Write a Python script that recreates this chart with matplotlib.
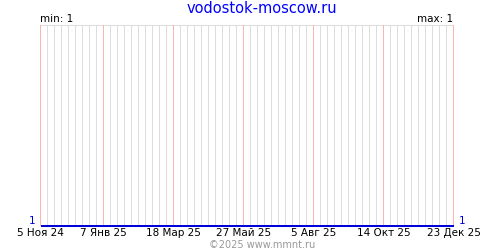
import numpy as np
import matplotlib
matplotlib.use('Agg')
import matplotlib.pyplot as plt
from datetime import datetime, timedelta

# data
dates = ['2024-11-05', '2025-12-23']
values = [1, 1]
tick_dates = ['2024-11-05', '2025-01-07', '2025-03-18', '2025-05-27',
              '2025-08-05', '2025-10-14', '2025-12-23']
tick_labels = ['5 Ноя 24', '7 Янв 25', '18 Мар 25', '27 Май 25',
               '5 Авг 25', '14 Окт 25', '23 Дек 25']
title = 'vodostok-moscow.ru'
footer = '©2025 www.mmnt.ru'

x = [datetime.strptime(d, '%Y-%m-%d') for d in dates]
ticks = [datetime.strptime(d, '%Y-%m-%d') for d in tick_dates]

plt.rcParams['font.family'] = ['DejaVu Sans']
fig = plt.figure(figsize=(5, 2.5), dpi=100)
# half-pixel offset so 1px lines land on pixel centres
ax = fig.add_axes([40.5 / 500, 24.5 / 250, 413 / 500, 200 / 250])

LW = 0.72  # one pixel at 100 dpi

# weekly gray grid, red lines at labelled dates
wk = x[0]
while wk <= x[-1]:
    if wk not in ticks:
        ax.axvline(wk, color='#dddddd', lw=LW, zorder=1, snap=False)
    wk += timedelta(days=7)
for t in ticks:
    ax.axvline(t, color='#ffb4b4', lw=LW, zorder=2, snap=False, clip_on=False)
ax.axhline(2, color='#dddddd', lw=LW, zorder=1, snap=False, clip_on=False)

ax.plot(x, values, color='#0000dd', lw=1.44, zorder=3, solid_capstyle='butt',
        clip_on=False, snap=True)

ax.set_xlim(x[0], x[-1])
ax.set_ylim(1, 2)
for s in ax.spines.values():
    s.set_visible(False)
ax.set_yticks([])
ax.set_xticks(ticks)
ax.set_xticklabels(tick_labels, fontsize=7.5)
ax.tick_params(axis='x', length=0, pad=2)

ax.text(-0.012, 0, str(min(values)), transform=ax.transAxes, color='#0000dd',
        fontsize=7.5, ha='right', va='bottom')
ax.text(1.012, 0, str(values[-1]), transform=ax.transAxes, color='#0000dd',
        fontsize=7.5, ha='left', va='bottom')
ax.text(0, 1.01, 'min: %d' % min(values), transform=ax.transAxes,
        fontsize=7.5, ha='left', va='bottom')
ax.text(1, 1.01, 'max: %d' % max(values), transform=ax.transAxes,
        fontsize=7.5, ha='right', va='bottom')

fig.text(0.524, 0.965, title, color='#0000ff', fontsize=10.5, ha='center', va='center')
fig.text(0.524, 0.002, footer, color='#999999', fontsize=7, ha='center', va='bottom')

fig.savefig('out.png', dpi=100)
